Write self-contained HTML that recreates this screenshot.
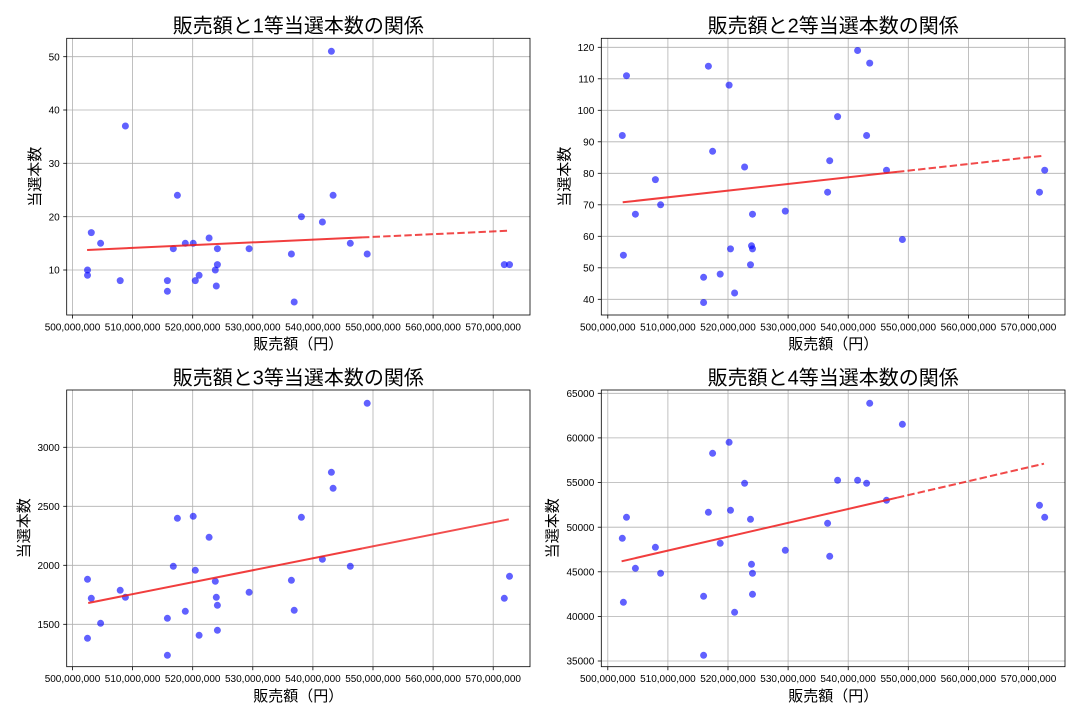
<!DOCTYPE html>
<html><head><meta charset="utf-8"><style>
html,body{margin:0;padding:0;background:#fff;}
svg{display:block;font-family:"Liberation Sans","Noto Sans CJK JP",sans-serif;}
.tk{font-size:10px;fill:#000;}
.ttl{font-size:20px;fill:#000;}
.lbl{font-size:15px;fill:#000;}
.g{stroke:#b0b0b0;stroke-width:0.8;}
.ax{fill:none;stroke:#000;stroke-width:0.8;}
.tm{stroke:#000;stroke-width:0.8;}
.d circle{fill:#0000ff;fill-opacity:0.62;}
</style></head><body>
<svg width="1080" height="720" viewBox="0 0 1080 720" xmlns="http://www.w3.org/2000/svg">
<rect width="1080" height="720" fill="#fff"/>

<!-- ============ PANEL 1 ============ -->
<g>
<g class="g">
<line x1="72.5" y1="38.3" x2="72.5" y2="315"/><line x1="132.6" y1="38.3" x2="132.6" y2="315"/><line x1="192.7" y1="38.3" x2="192.7" y2="315"/><line x1="252.8" y1="38.3" x2="252.8" y2="315"/><line x1="312.9" y1="38.3" x2="312.9" y2="315"/><line x1="373" y1="38.3" x2="373" y2="315"/><line x1="433.1" y1="38.3" x2="433.1" y2="315"/><line x1="493.2" y1="38.3" x2="493.2" y2="315"/>
<line x1="66.7" y1="270" x2="530" y2="270"/><line x1="66.7" y1="216.7" x2="530" y2="216.7"/><line x1="66.7" y1="163.3" x2="530" y2="163.3"/><line x1="66.7" y1="110" x2="530" y2="110"/><line x1="66.7" y1="56.7" x2="530" y2="56.7"/>
</g>
<g class="d">
<circle cx="87.5" cy="270" r="3.5"/><circle cx="87.5" cy="275.3" r="3.5"/><circle cx="91.3" cy="232.6" r="3.5"/><circle cx="100.6" cy="243.3" r="3.5"/><circle cx="120.2" cy="280.6" r="3.5"/><circle cx="125.4" cy="126" r="3.5"/><circle cx="167.4" cy="280.6" r="3.5"/><circle cx="167.4" cy="291.3" r="3.5"/><circle cx="173.3" cy="248.7" r="3.5"/><circle cx="177.4" cy="195.3" r="3.5"/><circle cx="185.3" cy="243.3" r="3.5"/><circle cx="193.2" cy="243.3" r="3.5"/><circle cx="195.3" cy="280.6" r="3.5"/><circle cx="199.1" cy="275.3" r="3.5"/><circle cx="209.1" cy="238" r="3.5"/><circle cx="215.3" cy="270" r="3.5"/><circle cx="216.3" cy="286" r="3.5"/><circle cx="217.4" cy="248.7" r="3.5"/><circle cx="217.4" cy="264.6" r="3.5"/><circle cx="249.1" cy="248.7" r="3.5"/><circle cx="291.4" cy="254" r="3.5"/><circle cx="294.2" cy="302" r="3.5"/><circle cx="301.4" cy="216.7" r="3.5"/><circle cx="322.4" cy="222" r="3.5"/><circle cx="331.4" cy="51.3" r="3.5"/><circle cx="333.1" cy="195.3" r="3.5"/><circle cx="350.3" cy="243.3" r="3.5"/><circle cx="367.2" cy="254" r="3.5"/><circle cx="504.3" cy="264.6" r="3.5"/><circle cx="509.5" cy="264.6" r="3.5"/>
</g>
<line x1="87.1" y1="250" x2="362" y2="237.4" stroke="#ee1c1c" stroke-opacity="0.85" stroke-width="2"/>
<line x1="362" y1="237.4" x2="509.5" y2="230.7" stroke="#ee1c1c" stroke-opacity="0.8" stroke-width="2" stroke-dasharray="7.4 3.2"/>
<rect class="ax" x="66.7" y="38.3" width="463.3" height="276.7"/>
<g class="tm">
<line x1="72.5" y1="315" x2="72.5" y2="318.5"/><line x1="132.6" y1="315" x2="132.6" y2="318.5"/><line x1="192.7" y1="315" x2="192.7" y2="318.5"/><line x1="252.8" y1="315" x2="252.8" y2="318.5"/><line x1="312.9" y1="315" x2="312.9" y2="318.5"/><line x1="373" y1="315" x2="373" y2="318.5"/><line x1="433.1" y1="315" x2="433.1" y2="318.5"/><line x1="493.2" y1="315" x2="493.2" y2="318.5"/>
<line x1="63.2" y1="270" x2="66.7" y2="270"/><line x1="63.2" y1="216.7" x2="66.7" y2="216.7"/><line x1="63.2" y1="163.3" x2="66.7" y2="163.3"/><line x1="63.2" y1="110" x2="66.7" y2="110"/><line x1="63.2" y1="56.7" x2="66.7" y2="56.7"/>
</g>
<g class="tk" text-anchor="middle">
<text x="72.5" y="330.5">500,000,000</text><text x="132.6" y="330.5">510,000,000</text><text x="192.7" y="330.5">520,000,000</text><text x="252.8" y="330.5">530,000,000</text><text x="312.9" y="330.5">540,000,000</text><text x="373" y="330.5">550,000,000</text><text x="433.1" y="330.5">560,000,000</text><text x="493.2" y="330.5">570,000,000</text>
</g>
<g class="tk" text-anchor="end">
<text x="59.7" y="273.6">10</text><text x="59.7" y="220.3">20</text><text x="59.7" y="166.9">30</text><text x="59.7" y="113.6">40</text><text x="59.7" y="60.3">50</text>
</g>
<text class="ttl" x="298.3" y="32.5" text-anchor="middle">販売額と1等当選本数の関係</text>
<text class="lbl" x="298.3" y="349" text-anchor="middle">販売額（円）</text>
<text class="lbl" x="40" y="176.7" text-anchor="middle" transform="rotate(-90 40 176.7)">当選本数</text>
</g>

<!-- ============ PANEL 2 ============ -->
<g>
<g class="g">
<line x1="607.8" y1="38.3" x2="607.8" y2="315"/><line x1="667.9" y1="38.3" x2="667.9" y2="315"/><line x1="728" y1="38.3" x2="728" y2="315"/><line x1="788.1" y1="38.3" x2="788.1" y2="315"/><line x1="848.2" y1="38.3" x2="848.2" y2="315"/><line x1="908.3" y1="38.3" x2="908.3" y2="315"/><line x1="968.4" y1="38.3" x2="968.4" y2="315"/><line x1="1028.5" y1="38.3" x2="1028.5" y2="315"/>
<line x1="601.3" y1="299.3" x2="1065" y2="299.3"/><line x1="601.3" y1="267.8" x2="1065" y2="267.8"/><line x1="601.3" y1="236.3" x2="1065" y2="236.3"/><line x1="601.3" y1="204.8" x2="1065" y2="204.8"/><line x1="601.3" y1="173.3" x2="1065" y2="173.3"/><line x1="601.3" y1="141.8" x2="1065" y2="141.8"/><line x1="601.3" y1="110.3" x2="1065" y2="110.3"/><line x1="601.3" y1="78.8" x2="1065" y2="78.8"/><line x1="601.3" y1="47.3" x2="1065" y2="47.3"/>
</g>
<g class="d">
<circle cx="622.3" cy="135.5" r="3.5"/><circle cx="623.4" cy="255.2" r="3.5"/><circle cx="626.5" cy="75.7" r="3.5"/><circle cx="635.4" cy="214.2" r="3.5"/><circle cx="655.4" cy="179.6" r="3.5"/><circle cx="660.6" cy="204.8" r="3.5"/><circle cx="703.6" cy="277.3" r="3.5"/><circle cx="703.6" cy="302.5" r="3.5"/><circle cx="708.4" cy="66.2" r="3.5"/><circle cx="712.6" cy="151.3" r="3.5"/><circle cx="720.2" cy="274.1" r="3.5"/><circle cx="729.1" cy="85.1" r="3.5"/><circle cx="730.5" cy="248.9" r="3.5"/><circle cx="734.6" cy="293" r="3.5"/><circle cx="744.6" cy="167" r="3.5"/><circle cx="750.5" cy="264.7" r="3.5"/><circle cx="751.5" cy="245.8" r="3.5"/><circle cx="752.5" cy="248.9" r="3.5"/><circle cx="752.5" cy="214.2" r="3.5"/><circle cx="785.3" cy="211.1" r="3.5"/><circle cx="827.6" cy="192.2" r="3.5"/><circle cx="829.7" cy="160.7" r="3.5"/><circle cx="837.6" cy="116.6" r="3.5"/><circle cx="857.6" cy="50.5" r="3.5"/><circle cx="866.6" cy="135.5" r="3.5"/><circle cx="869.7" cy="63.1" r="3.5"/><circle cx="886.5" cy="170.2" r="3.5"/><circle cx="902.4" cy="239.5" r="3.5"/><circle cx="1039.5" cy="192.2" r="3.5"/><circle cx="1044.7" cy="170.2" r="3.5"/>
</g>
<line x1="622.7" y1="202.3" x2="897" y2="171.9" stroke="#ee1c1c" stroke-opacity="0.85" stroke-width="2"/>
<line x1="897" y1="171.9" x2="1043.6" y2="155.7" stroke="#ee1c1c" stroke-opacity="0.8" stroke-width="2" stroke-dasharray="7.4 3.2"/>
<rect class="ax" x="601.3" y="38.3" width="463.7" height="276.7"/>
<g class="tm">
<line x1="607.8" y1="315" x2="607.8" y2="318.5"/><line x1="667.9" y1="315" x2="667.9" y2="318.5"/><line x1="728" y1="315" x2="728" y2="318.5"/><line x1="788.1" y1="315" x2="788.1" y2="318.5"/><line x1="848.2" y1="315" x2="848.2" y2="318.5"/><line x1="908.3" y1="315" x2="908.3" y2="318.5"/><line x1="968.4" y1="315" x2="968.4" y2="318.5"/><line x1="1028.5" y1="315" x2="1028.5" y2="318.5"/>
<line x1="597.8" y1="299.3" x2="601.3" y2="299.3"/><line x1="597.8" y1="267.8" x2="601.3" y2="267.8"/><line x1="597.8" y1="236.3" x2="601.3" y2="236.3"/><line x1="597.8" y1="204.8" x2="601.3" y2="204.8"/><line x1="597.8" y1="173.3" x2="601.3" y2="173.3"/><line x1="597.8" y1="141.8" x2="601.3" y2="141.8"/><line x1="597.8" y1="110.3" x2="601.3" y2="110.3"/><line x1="597.8" y1="78.8" x2="601.3" y2="78.8"/><line x1="597.8" y1="47.3" x2="601.3" y2="47.3"/>
</g>
<g class="tk" text-anchor="middle">
<text x="607.8" y="330.5">500,000,000</text><text x="667.9" y="330.5">510,000,000</text><text x="728" y="330.5">520,000,000</text><text x="788.1" y="330.5">530,000,000</text><text x="848.2" y="330.5">540,000,000</text><text x="908.3" y="330.5">550,000,000</text><text x="968.4" y="330.5">560,000,000</text><text x="1028.5" y="330.5">570,000,000</text>
</g>
<g class="tk" text-anchor="end">
<text x="594.3" y="302.9">40</text><text x="594.3" y="271.4">50</text><text x="594.3" y="239.9">60</text><text x="594.3" y="208.4">70</text><text x="594.3" y="176.9">80</text><text x="594.3" y="145.4">90</text><text x="594.3" y="113.9">100</text><text x="594.3" y="82.4">110</text><text x="594.3" y="50.9">120</text>
</g>
<text class="ttl" x="833.2" y="32.5" text-anchor="middle">販売額と2等当選本数の関係</text>
<text class="lbl" x="833.2" y="349" text-anchor="middle">販売額（円）</text>
<text class="lbl" x="569.7" y="176.7" text-anchor="middle" transform="rotate(-90 569.7 176.7)">当選本数</text>
</g>

<!-- ============ PANEL 3 ============ -->
<g>
<g class="g">
<line x1="72.5" y1="390" x2="72.5" y2="666.7"/><line x1="132.6" y1="390" x2="132.6" y2="666.7"/><line x1="192.7" y1="390" x2="192.7" y2="666.7"/><line x1="252.8" y1="390" x2="252.8" y2="666.7"/><line x1="312.9" y1="390" x2="312.9" y2="666.7"/><line x1="373" y1="390" x2="373" y2="666.7"/><line x1="433.1" y1="390" x2="433.1" y2="666.7"/><line x1="493.2" y1="390" x2="493.2" y2="666.7"/>
<line x1="66.7" y1="624.3" x2="530" y2="624.3"/><line x1="66.7" y1="565.3" x2="530" y2="565.3"/><line x1="66.7" y1="506.3" x2="530" y2="506.3"/><line x1="66.7" y1="447.3" x2="530" y2="447.3"/>
</g>
<g class="d">
<circle cx="87.5" cy="579.3" r="3.5"/><circle cx="87.5" cy="638.3" r="3.5"/><circle cx="91.3" cy="598.3" r="3.5"/><circle cx="100.6" cy="623.3" r="3.5"/><circle cx="120.2" cy="590.3" r="3.5"/><circle cx="125.4" cy="597.3" r="3.5"/><circle cx="167.4" cy="618.3" r="3.5"/><circle cx="167.4" cy="655.3" r="3.5"/><circle cx="173.3" cy="566.3" r="3.5"/><circle cx="177.4" cy="518.3" r="3.5"/><circle cx="185.3" cy="611.3" r="3.5"/><circle cx="193.2" cy="516.3" r="3.5"/><circle cx="195.3" cy="570.3" r="3.5"/><circle cx="199.1" cy="635.3" r="3.5"/><circle cx="209.1" cy="537.3" r="3.5"/><circle cx="215.3" cy="581.3" r="3.5"/><circle cx="216.3" cy="597.3" r="3.5"/><circle cx="217.4" cy="605.3" r="3.5"/><circle cx="217.4" cy="630.3" r="3.5"/><circle cx="249.1" cy="592.3" r="3.5"/><circle cx="291.4" cy="580.3" r="3.5"/><circle cx="294.2" cy="610.3" r="3.5"/><circle cx="301.4" cy="517.3" r="3.5"/><circle cx="322.4" cy="559.3" r="3.5"/><circle cx="331.4" cy="472.3" r="3.5"/><circle cx="333.1" cy="488.3" r="3.5"/><circle cx="350.3" cy="566.3" r="3.5"/><circle cx="367.2" cy="403.3" r="3.5"/><circle cx="504.3" cy="598.3" r="3.5"/><circle cx="509.5" cy="576.3" r="3.5"/>
</g>
<line x1="88.2" y1="603" x2="362" y2="548.5" stroke="#ee1c1c" stroke-opacity="0.85" stroke-width="2"/>
<line x1="362" y1="548.5" x2="508.8" y2="519.3" stroke="#ee1c1c" stroke-opacity="0.78" stroke-width="2"/>
<rect class="ax" x="66.7" y="390" width="463.3" height="276.7"/>
<g class="tm">
<line x1="72.5" y1="666.7" x2="72.5" y2="670.2"/><line x1="132.6" y1="666.7" x2="132.6" y2="670.2"/><line x1="192.7" y1="666.7" x2="192.7" y2="670.2"/><line x1="252.8" y1="666.7" x2="252.8" y2="670.2"/><line x1="312.9" y1="666.7" x2="312.9" y2="670.2"/><line x1="373" y1="666.7" x2="373" y2="670.2"/><line x1="433.1" y1="666.7" x2="433.1" y2="670.2"/><line x1="493.2" y1="666.7" x2="493.2" y2="670.2"/>
<line x1="63.2" y1="624.3" x2="66.7" y2="624.3"/><line x1="63.2" y1="565.3" x2="66.7" y2="565.3"/><line x1="63.2" y1="506.3" x2="66.7" y2="506.3"/><line x1="63.2" y1="447.3" x2="66.7" y2="447.3"/>
</g>
<g class="tk" text-anchor="middle">
<text x="72.5" y="682.2">500,000,000</text><text x="132.6" y="682.2">510,000,000</text><text x="192.7" y="682.2">520,000,000</text><text x="252.8" y="682.2">530,000,000</text><text x="312.9" y="682.2">540,000,000</text><text x="373" y="682.2">550,000,000</text><text x="433.1" y="682.2">560,000,000</text><text x="493.2" y="682.2">570,000,000</text>
</g>
<g class="tk" text-anchor="end">
<text x="59.7" y="627.9">1500</text><text x="59.7" y="568.9">2000</text><text x="59.7" y="509.9">2500</text><text x="59.7" y="450.9">3000</text>
</g>
<text class="ttl" x="298.3" y="384.5" text-anchor="middle">販売額と3等当選本数の関係</text>
<text class="lbl" x="298.3" y="701" text-anchor="middle">販売額（円）</text>
<text class="lbl" x="29.1" y="528.3" text-anchor="middle" transform="rotate(-90 29.1 528.3)">当選本数</text>
</g>

<!-- ============ PANEL 4 ============ -->
<g>
<g class="g">
<line x1="607.8" y1="390" x2="607.8" y2="666.7"/><line x1="667.9" y1="390" x2="667.9" y2="666.7"/><line x1="728" y1="390" x2="728" y2="666.7"/><line x1="788.1" y1="390" x2="788.1" y2="666.7"/><line x1="848.2" y1="390" x2="848.2" y2="666.7"/><line x1="908.3" y1="390" x2="908.3" y2="666.7"/><line x1="968.4" y1="390" x2="968.4" y2="666.7"/><line x1="1028.5" y1="390" x2="1028.5" y2="666.7"/>
<line x1="601.3" y1="661" x2="1065" y2="661"/><line x1="601.3" y1="616.4" x2="1065" y2="616.4"/><line x1="601.3" y1="571.8" x2="1065" y2="571.8"/><line x1="601.3" y1="527.2" x2="1065" y2="527.2"/><line x1="601.3" y1="482.5" x2="1065" y2="482.5"/><line x1="601.3" y1="437.9" x2="1065" y2="437.9"/><line x1="601.3" y1="393.3" x2="1065" y2="393.3"/>
</g>
<g class="d">
<circle cx="622.3" cy="538.3" r="3.5"/><circle cx="623.4" cy="602.3" r="3.5"/><circle cx="626.5" cy="517.3" r="3.5"/><circle cx="635.4" cy="568.3" r="3.5"/><circle cx="655.4" cy="547.3" r="3.5"/><circle cx="660.6" cy="573.3" r="3.5"/><circle cx="703.6" cy="596.3" r="3.5"/><circle cx="703.6" cy="655.3" r="3.5"/><circle cx="708.4" cy="512.3" r="3.5"/><circle cx="712.6" cy="453.3" r="3.5"/><circle cx="720.2" cy="543.3" r="3.5"/><circle cx="729.1" cy="442.3" r="3.5"/><circle cx="730.5" cy="510.3" r="3.5"/><circle cx="734.6" cy="612.3" r="3.5"/><circle cx="744.6" cy="483.3" r="3.5"/><circle cx="750.5" cy="519.3" r="3.5"/><circle cx="751.5" cy="564.3" r="3.5"/><circle cx="752.5" cy="573.3" r="3.5"/><circle cx="752.5" cy="594.3" r="3.5"/><circle cx="785.3" cy="550.3" r="3.5"/><circle cx="827.6" cy="523.3" r="3.5"/><circle cx="829.7" cy="556.3" r="3.5"/><circle cx="837.6" cy="480.3" r="3.5"/><circle cx="857.6" cy="480.3" r="3.5"/><circle cx="866.6" cy="483.3" r="3.5"/><circle cx="869.7" cy="403.3" r="3.5"/><circle cx="886.5" cy="500.3" r="3.5"/><circle cx="902.4" cy="424.3" r="3.5"/><circle cx="1039.5" cy="505.3" r="3.5"/><circle cx="1044.7" cy="517.3" r="3.5"/>
</g>
<line x1="621.6" y1="561.3" x2="897" y2="497.7" stroke="#ee1c1c" stroke-opacity="0.85" stroke-width="2"/>
<line x1="897" y1="497.7" x2="1044" y2="463.7" stroke="#ee1c1c" stroke-opacity="0.8" stroke-width="2" stroke-dasharray="7.4 3.2"/>
<rect class="ax" x="601.3" y="390" width="463.7" height="276.7"/>
<g class="tm">
<line x1="607.8" y1="666.7" x2="607.8" y2="670.2"/><line x1="667.9" y1="666.7" x2="667.9" y2="670.2"/><line x1="728" y1="666.7" x2="728" y2="670.2"/><line x1="788.1" y1="666.7" x2="788.1" y2="670.2"/><line x1="848.2" y1="666.7" x2="848.2" y2="670.2"/><line x1="908.3" y1="666.7" x2="908.3" y2="670.2"/><line x1="968.4" y1="666.7" x2="968.4" y2="670.2"/><line x1="1028.5" y1="666.7" x2="1028.5" y2="670.2"/>
<line x1="597.8" y1="661" x2="601.3" y2="661"/><line x1="597.8" y1="616.4" x2="601.3" y2="616.4"/><line x1="597.8" y1="571.8" x2="601.3" y2="571.8"/><line x1="597.8" y1="527.2" x2="601.3" y2="527.2"/><line x1="597.8" y1="482.5" x2="601.3" y2="482.5"/><line x1="597.8" y1="437.9" x2="601.3" y2="437.9"/><line x1="597.8" y1="393.3" x2="601.3" y2="393.3"/>
</g>
<g class="tk" text-anchor="middle">
<text x="607.8" y="682.2">500,000,000</text><text x="667.9" y="682.2">510,000,000</text><text x="728" y="682.2">520,000,000</text><text x="788.1" y="682.2">530,000,000</text><text x="848.2" y="682.2">540,000,000</text><text x="908.3" y="682.2">550,000,000</text><text x="968.4" y="682.2">560,000,000</text><text x="1028.5" y="682.2">570,000,000</text>
</g>
<g class="tk" text-anchor="end">
<text x="594.3" y="664.6">35000</text><text x="594.3" y="620">40000</text><text x="594.3" y="575.4">45000</text><text x="594.3" y="530.8">50000</text><text x="594.3" y="486.1">55000</text><text x="594.3" y="441.5">60000</text><text x="594.3" y="396.9">65000</text>
</g>
<text class="ttl" x="833.2" y="384.5" text-anchor="middle">販売額と4等当選本数の関係</text>
<text class="lbl" x="833.2" y="701" text-anchor="middle">販売額（円）</text>
<text class="lbl" x="557.7" y="528.3" text-anchor="middle" transform="rotate(-90 557.7 528.3)">当選本数</text>
</g>
</svg>
</body></html>
